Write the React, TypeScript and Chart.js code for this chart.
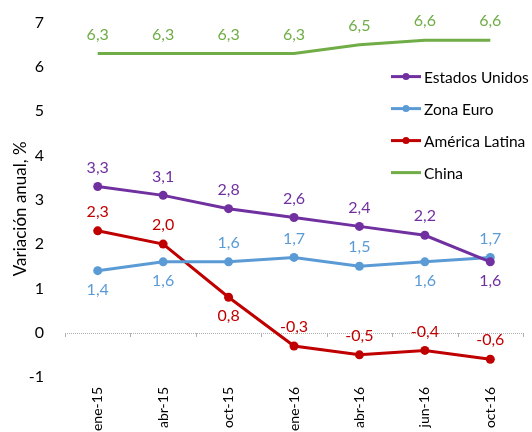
import React, { useEffect, useRef } from "react";
import { Chart, registerables } from "chart.js";

Chart.register(...registerables);

const categories = ["ene-15", "abr-15", "oct-15", "ene-16", "abr-16", "jun-16", "oct-16"];
const estadosUnidos = [3.3, 3.1, 2.8, 2.6, 2.4, 2.2, 1.6];
const zonaEuro = [1.4, 1.6, 1.6, 1.7, 1.5, 1.6, 1.7];
const americaLatina = [2.3, 2.0, 0.8, -0.3, -0.5, -0.4, -0.6];
const china = [6.3, 6.3, 6.3, 6.3, 6.5, 6.6, 6.6];

const usLabelPos = ["a", "a", "a", "a", "a", "a", "b"];
const euLabelPos = ["b", "b", "a", "a", "a", "b", "a"];
const laLabelPos = ["a", "a", "b", "a", "a", "a", "a"];
const cnLabelPos = ["a", "a", "a", "a", "a", "a", "a"];

const yTitle = "Variación anual, %";

const FONT = "Lato, 'Open Sans', sans-serif";

const fmt = (v: number) => v.toFixed(1).replace(".", ",");

const zeroLinePlugin = {
  id: "zeroLine",
  beforeDatasetsDraw(chart: any) {
    const { ctx, chartArea, scales } = chart;
    const y0 = scales.y.getPixelForValue(0);
    const xs = scales.x;
    ctx.save();
    ctx.strokeStyle = "#b0b0b0";
    ctx.lineWidth = 1;
    ctx.setLineDash([1, 1]);
    ctx.beginPath();
    ctx.moveTo(chartArea.left, Math.round(y0) + 0.5);
    ctx.lineTo(chartArea.right, Math.round(y0) + 0.5);
    ctx.stroke();
    ctx.setLineDash([]);
    const n = categories.length;
    const half = (xs.getPixelForValue(1) - xs.getPixelForValue(0)) / 2;
    for (let i = 0; i <= n; i++) {
      const px = Math.round(xs.getPixelForValue(i) - half) + 0.5;
      ctx.beginPath();
      ctx.moveTo(px, Math.round(y0));
      ctx.lineTo(px, Math.round(y0) + 4);
      ctx.stroke();
    }
    ctx.restore();
  },
};

const labelPlugin = {
  id: "valueLabels",
  afterDatasetsDraw(chart: any) {
    const { ctx } = chart;
    ctx.save();
    ctx.font = `16px ${FONT}`;
    ctx.textAlign = "center";
    ctx.textBaseline = "middle";
    chart.data.datasets.forEach((ds: any, di: number) => {
      const meta = chart.getDatasetMeta(di);
      ctx.fillStyle = ds.borderColor;
      meta.data.forEach((pt: any, i: number) => {
        const pos = ds.labelPos[i];
        const dy = pos === "a" ? -19 : 19;
        ctx.fillText(fmt(ds.data[i]), pt.x, pt.y + dy);
      });
    });
    ctx.restore();
  },
};

const titlePlugin = {
  id: "yTitle",
  afterDraw(chart: any) {
    const { ctx, chartArea } = chart;
    ctx.save();
    ctx.translate(21, (chartArea.top + chartArea.bottom) / 2 + 9);
    ctx.rotate(-Math.PI / 2);
    ctx.font = `17px ${FONT}`;
    ctx.fillStyle = "#000";
    ctx.textAlign = "center";
    ctx.textBaseline = "middle";
    ctx.fillText(yTitle, 0, 0);
    ctx.restore();
  },
};

const legendPlugin = {
  id: "customLegend",
  afterDraw(chart: any) {
    const { ctx, chartArea } = chart;
    const x0 = chartArea.right - 132;
    const y0 = chartArea.top + 54;
    ctx.save();
    ctx.font = `15.5px ${FONT}`;
    ctx.textBaseline = "middle";
    ctx.textAlign = "left";
    chart.data.datasets.forEach((ds: any, i: number) => {
      const y = y0 + i * 32;
      ctx.strokeStyle = ds.borderColor;
      ctx.lineWidth = 3;
      ctx.beginPath();
      ctx.moveTo(x0, y);
      ctx.lineTo(x0 + 30, y);
      ctx.stroke();
      if (ds.pointRadius > 0) {
        ctx.fillStyle = ds.borderColor;
        ctx.beginPath();
        ctx.arc(x0 + 15, y, 3.5, 0, Math.PI * 2);
        ctx.fill();
      }
      ctx.fillStyle = "#000";
      ctx.fillText(ds.label, x0 + 33, y + 1);
    });
    ctx.restore();
  },
};

export default function App() {
  const ref = useRef<HTMLCanvasElement | null>(null);
  useEffect(() => {
    document.body.style.margin = "0";
    const mk = (label: string, data: number[], color: string, pos: string[], radius: number) => ({
      label,
      data,
      borderColor: color,
      backgroundColor: color,
      borderWidth: 3,
      pointRadius: radius,
      pointHoverRadius: radius,
      pointBackgroundColor: color,
      pointBorderWidth: 0,
      tension: 0,
      labelPos: pos,
    });
    const chart = new Chart(ref.current as HTMLCanvasElement, {
      type: "line",
      data: {
        labels: categories,
        datasets: [
          mk("Estados Unidos", estadosUnidos, "#7030A0", usLabelPos, 4.5),
          mk("Zona Euro", zonaEuro, "#5B9BD5", euLabelPos, 4.5),
          mk("América Latina", americaLatina, "#C00000", laLabelPos, 4.5),
          mk("China", china, "#70AD47", cnLabelPos, 0),
        ] as any,
      },
      options: {
        animation: false,
        responsive: true,
        maintainAspectRatio: false,
        layout: { padding: { top: 19, right: 9, bottom: 0, left: 0 } },
        plugins: {
          legend: { display: false },
          tooltip: { enabled: false },
        },
        scales: {
          x: {
            offset: true,
            grid: { display: false },
            border: { display: false },
            ticks: {
              minRotation: 90,
              maxRotation: 90,
              padding: 2,
              color: "#000",
              font: { family: FONT, size: 14 },
            },
            afterFit: (s: any) => {
              s.height = 55;
            },
          },
          y: {
            min: -1,
            max: 7,
            grid: { display: false },
            border: { display: false },
            ticks: {
              stepSize: 1,
              padding: 13,
              color: "#000",
              font: { family: FONT, size: 16 },
              callback: (v: any) => String(v),
            },
            title: { display: false },
            afterFit: (s: any) => {
              s.width = 65;
            },
          },
        },
      } as any,
      plugins: [zeroLinePlugin, labelPlugin, legendPlugin, titlePlugin],
    });
    return () => chart.destroy();
  }, []);
  return (
    <div style={{ width: 532, height: 432, position: "relative" }}>
      <canvas ref={ref} />
    </div>
  );
}
